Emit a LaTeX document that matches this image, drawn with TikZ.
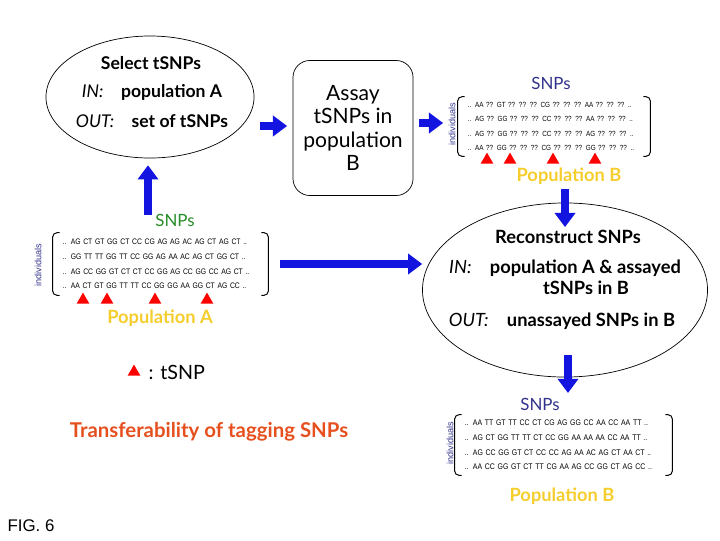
\documentclass[tikz,border=0pt]{standalone}
\usepackage{fontspec}
\setmainfont{Lato}
\newfontfamily\gtfont{Liberation Sans}
\newfontfamily\gtnarrow[FakeStretch=0.85]{Liberation Sans}
\usepackage{tikz}
\usetikzlibrary{shapes.geometric, arrows.meta, positioning}

\definecolor{snpnavy}{RGB}{50,50,140}
\definecolor{snpgreen}{RGB}{40,140,40}
\definecolor{popgold}{RGB}{245,205,45}
\definecolor{titleorange}{RGB}{230,80,30}
\definecolor{arrowblue}{RGB}{20,20,225}

\tikzset{
  procell/.style={draw, ellipse, line width=0.5pt, inner sep=0pt},
  assaybox/.style={draw, rounded corners=12pt, line width=0.5pt, align=center},
  gtmat/.style={align=left, inner xsep=0.25cm, inner ysep=0pt},
  brak/.style={line width=0.7pt, rounded corners=3pt},
  tsnp/.style={regular polygon, regular polygon sides=3, fill=red, inner sep=0pt, minimum size=10.5pt},
  bluearrow/.style={draw=arrowblue, line width=5.5pt, -{Triangle[length=10pt, width=15pt, line width=0pt]}},
  steptxt/.style={font=\bfseries\fontsize{12.5}{14}\selectfont},
  poplab/.style={font=\bfseries\fontsize{13}{15}\selectfont, text=popgold},
  snplab/.style={font=\fontsize{12}{14}\selectfont},
  indlab/.style={font=\gtfont\fontsize{6.5}{7}\selectfont, text=snpnavy, rotate=90},
}

\begin{document}
\begin{tikzpicture}[x=0.025cm, y=-0.025cm]
\useasboundingbox (0,0) rectangle (720,540);

% select tSNPs in population A
\node[procell, minimum width=5.2cm, minimum height=3.05cm] (sel) at (150,97) {};
\node[steptxt] (selhead) at (151,63) {Select tSNPs};
\node[steptxt] (selin) at (152,92) {{\mdseries\itshape IN:}\quad population A};
\node[steptxt] (selout) at (152,121) {{\mdseries\itshape OUT:}\quad set of tSNPs};

% assay
\node[assaybox, minimum width=3cm, minimum height=3.375cm, font=\fontsize{15}{16.6}\selectfont] (assay) at (353,128) {Assay\\tSNPs in\\population\\B};

% population B, tSNPs only
\node[snplab, text=snpnavy] (snpB) at (551,83) {SNPs};
\node[gtmat, text width=4.3cm, minimum height=1.475cm, font=\gtnarrow\fontsize{5.3}{10.2}\selectfont] (matB) at (554,126.5)
  {.. AA ?? GT ?? ?? ?? CG ?? ?? ?? AA ?? ?? ?? ..\\
   .. AG ?? GG ?? ?? ?? CC ?? ?? ?? AA ?? ?? ?? ..\\
   .. AG ?? GG ?? ?? ?? CC ?? ?? ?? AG ?? ?? ?? ..\\
   .. AA ?? GG ?? ?? ?? CG ?? ?? ?? GG ?? ?? ?? ..};
\draw[brak] ([xshift=5pt]matB.north west) -- (matB.north west) -- (matB.south west) -- ([xshift=5pt]matB.south west);
\draw[brak] ([xshift=-5pt]matB.north east) -- (matB.north east) -- (matB.south east) -- ([xshift=-5pt]matB.south east);
\node[indlab] (indB) at (452,124) {individuals};
\node[tsnp] (tb1) at (487,160) {};
\node[tsnp] (tb2) at (510,160) {};
\node[tsnp] (tb3) at (553,160) {};
\node[tsnp] (tb4) at (595,160) {};
\node[poplab] (popB) at (569,176) {Population B};

% population A
\node[snplab, text=snpgreen] (snpA) at (175,220) {SNPs};
\node[gtmat, text width=4.875cm, minimum height=1.55cm, font=\gtnarrow\fontsize{5.7}{10.4}\selectfont] (matA) at (160.5,264)
  {.. AG CT GT GG CT CC CG AG AG AC AG CT AG CT ..\\
   .. GG TT TT GG TT CC GG AG AA AC AG CT GG CT ..\\
   .. AG CC GG GT CT CT CC GG AG CC GG CC AG CT ..\\
   .. AA CT GT GG TT TT CC GG GG AA GG CT AG CC ..};
\draw[brak] ([xshift=5pt]matA.north west) -- (matA.north west) -- (matA.south west) -- ([xshift=5pt]matA.south west);
\draw[brak] ([xshift=-5pt]matA.north east) -- (matA.north east) -- (matA.south east) -- ([xshift=-5pt]matA.south east);
\node[indlab] (indA) at (38,265) {individuals};
\node[tsnp] (ta1) at (83,300) {};
\node[tsnp] (ta2) at (107,300) {};
\node[tsnp] (ta3) at (155,300) {};
\node[tsnp] (ta4) at (207,300) {};
\node[poplab] (popA) at (160,318) {Population A};

% reconstruct
\node[procell, minimum width=7.125cm, minimum height=4.35cm] (recon) at (565,290) {};
\node[steptxt, font=\bfseries\fontsize{13}{15}\selectfont] (rechead) at (568,237) {Reconstruct SNPs};
\node[steptxt, font=\bfseries\fontsize{13}{15}\selectfont] (recin) at (565,268) {{\mdseries\itshape IN:}\quad population A \& assayed};
\node[steptxt, font=\bfseries\fontsize{13}{15}\selectfont] (recin2) at (586,288) {tSNPs in B};
\node[steptxt, font=\bfseries\fontsize{13}{15}\selectfont] (recout) at (562,321) {{\mdseries\itshape OUT:}\quad unassayed SNPs in B};

% population B, all SNPs
\node[snplab, text=snpnavy] (snpC) at (540,404) {SNPs};
\node[gtmat, text width=4.925cm, minimum height=1.5cm, font=\gtnarrow\fontsize{5.8}{10.4}\selectfont] (matC) at (563.5,445)
  {.. AA TT GT TT CC CT CG AG GG CC AA CC AA TT ..\\
   .. AG CT GG TT TT CT CC GG AA AA AA CC AA TT ..\\
   .. AG CC GG GT CT CC CC AG AA AC AG CT AA CT ..\\
   .. AA CC GG GT CT TT CG AA AG CC GG CT AG CC ..};
\draw[brak] ([xshift=5pt]matC.north west) -- (matC.north west) -- (matC.south west) -- ([xshift=5pt]matC.south west);
\draw[brak] ([xshift=-5pt]matC.north east) -- (matC.north east) -- (matC.south east) -- ([xshift=-5pt]matC.south east);
\node[indlab] (indC) at (450,443) {individuals};
\node[poplab] (popC) at (562,496) {Population B};

% legend, title
\node[tsnp] (legtri) at (134,372) {};
\node[right=7pt of legtri, inner sep=0pt, font=\fontsize{14}{16}\selectfont] (legtxt) {: tSNP};
\node[font=\bfseries\fontsize{14.5}{16}\selectfont, text=titleorange] (title) at (209,432) {Transferability of tagging SNPs};
\node[font=\gtfont\fontsize{12}{14}\selectfont] (fig) at (31,526) {FIG. 6};

% arrows
\coordinate (upA) at (148,215);
\draw[bluearrow] (upA) -- (upA |- sel.south) [shorten >=5pt];
\coordinate (toassay) at (260,126);
\draw[bluearrow, shorten >=4pt] (toassay) -- (toassay -| assay.west);
\coordinate (tomatB) at (443,123);
\draw[bluearrow, shorten <=4pt] (tomatB -| assay.east) -- (tomatB);
\coordinate (torec) at (565,227);
\draw[bluearrow] (torec |- popB.south) -- (torec);
\draw[bluearrow, shorten <=8pt] (matA.east) -- (matA.east -| recon.west);
\coordinate (fromrec) at (568,355);
\draw[bluearrow] (fromrec) -- (fromrec |- snpC.north);
\end{tikzpicture}
\end{document}
